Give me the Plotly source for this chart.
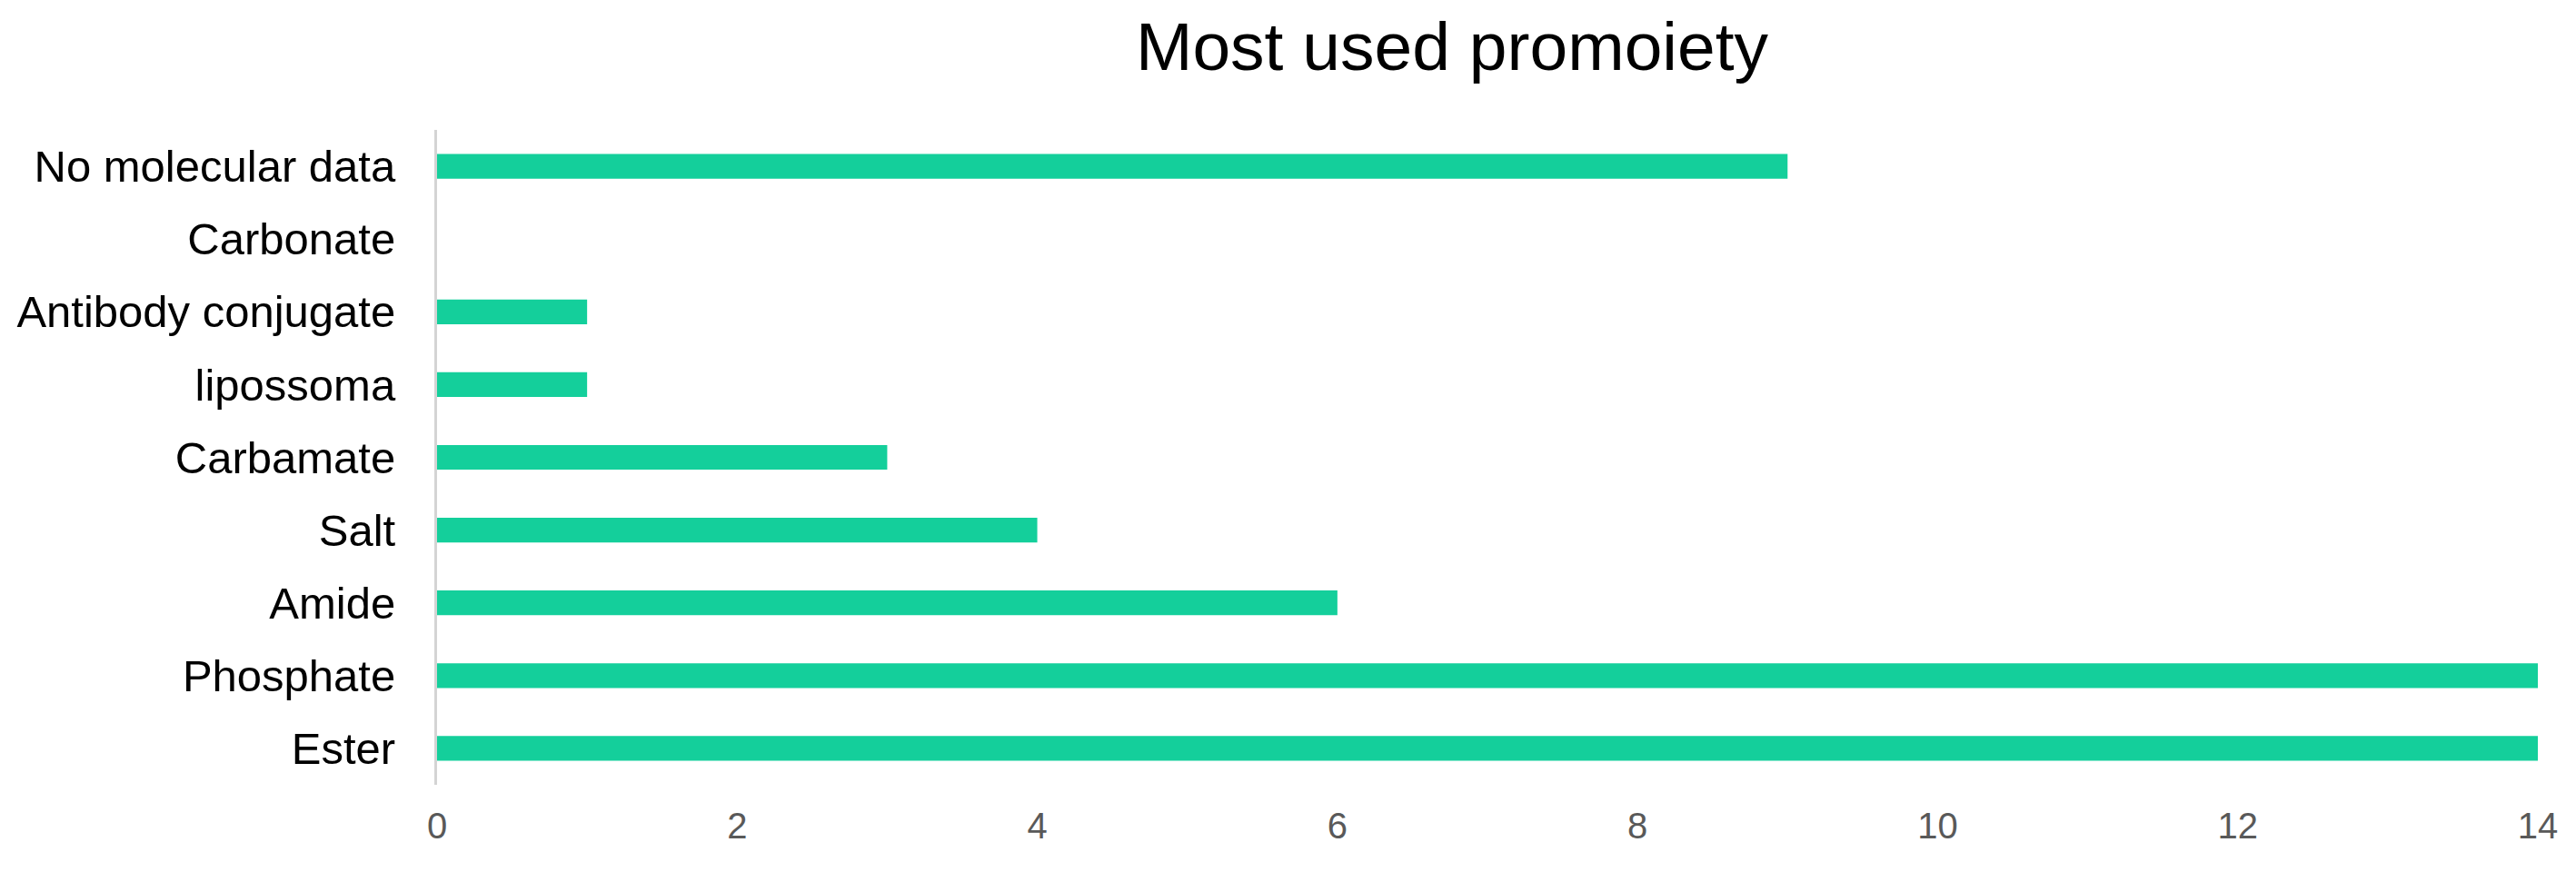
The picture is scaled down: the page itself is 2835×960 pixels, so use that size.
import plotly.graph_objects as go

categories = ["Ester", "Phosphate", "Amide", "Salt", "Carbamate", "lipossoma",
              "Antibody conjugate", "Carbonate", "No molecular data"]
counts = [14, 14, 6, 4, 3, 1, 1, 0, 9]
x_ticks = [0, 2, 4, 6, 8, 10, 12, 14]

fig = go.Figure(go.Bar(
    y=categories, x=counts, orientation="h",
    marker=dict(color="#14CF9B", line=dict(width=0)),
    width=0.34,
))

fig.update_layout(
    width=2835, height=960,
    margin=dict(l=473, r=50, t=135, b=104, autoexpand=False),
    paper_bgcolor="white", plot_bgcolor="white",
    showlegend=False,
    title=dict(text="Most used promoiety", xref="container", x=1590/2835, xanchor="center",
               yref="container", y=1-43/960, yanchor="middle",
               font=dict(family="Liberation Sans, Arial", size=75, color="#000000")),
    font=dict(family="Liberation Sans, Arial"),
)
fig.update_xaxes(range=[0, 14], tickvals=x_ticks, showgrid=False, zeroline=False,
                 showline=False, ticks="", ticklabelstandoff=18, automargin=False,
                 tickfont=dict(size=40, color="#595959"))
fig.update_yaxes(categoryorder="array", categoryarray=categories, showgrid=False,
                 zeroline=False, showline=True, linecolor="#d4d4d4", linewidth=3,
                 ticks="", ticklabelstandoff=33, automargin=False,
                 tickfont=dict(size=49, color="#000000"))

fig.write_html("out.html")
